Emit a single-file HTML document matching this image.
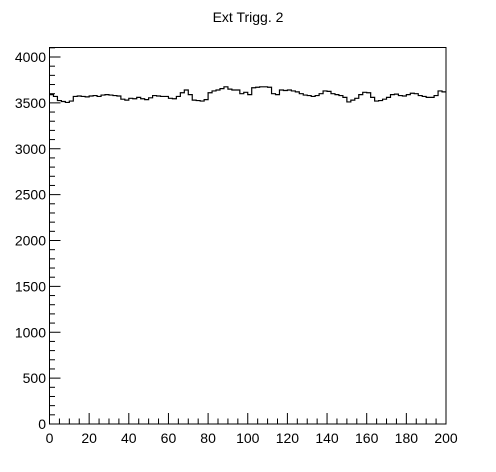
<!DOCTYPE html>
<html><head><meta charset="utf-8"><style>body{margin:0;background:#fff}svg{display:block}</style></head>
<body>
<svg width="496" height="472" xmlns="http://www.w3.org/2000/svg" font-family="Liberation Sans, sans-serif">
<text x="248" y="22" font-size="14" text-anchor="middle">Ext Trigg. 2</text>
<g id="axes"></g>
<path id="hist" fill="none" stroke="#000" stroke-width="1.2"/>
<rect x="49.5" y="47.5" width="396.5" height="376.5" fill="none" stroke="#000" stroke-width="1"/>
</svg>
<script>
const binEdgesRange = [0, 200];
const values = [3590,3570,3525,3515,3505, 3520,3570,3575,3570,3565,
3575,3580,3570,3585,3590, 3585,3580,3575,3540,3530,
3550,3545,3560,3545,3535, 3555,3580,3575,3570,3570,
3550,3545,3570,3610,3640, 3590,3530,3525,3520,3535,
3610,3630,3640,3655,3675, 3650,3640,3640,3600,3615,
3590,3665,3670,3675,3675, 3670,3600,3590,3640,3635,
3640,3630,3620,3600,3585, 3580,3570,3580,3600,3630,
3625,3600,3590,3580,3560, 3510,3530,3550,3590,3615,
3610,3560,3520,3525,3540, 3560,3590,3595,3580,3575,
3590,3605,3600,3580,3570, 3560,3560,3580,3630,3620];
const xTicks = [0,20,40,60,80,100,120,140,160,180,200];
const yTicks = [0,500,1000,1500,2000,2500,3000,3500,4000];

const X0=49.5, X1=446, Y0=424, YTOP=47.5, YMAX=(424-47.5)/0.09175;
const sx = v => X0 + (v - binEdgesRange[0])/(binEdgesRange[1]-binEdgesRange[0])*(X1-X0);
const sy = v => Y0 - v/YMAX*(Y0-YTOP);
const NS='http://www.w3.org/2000/svg';
const ax=document.getElementById('axes');
function line(x1,y1,x2,y2,name){const l=document.createElementNS(NS,'line');
l.setAttribute('x1',x1);l.setAttribute('y1',y1);l.setAttribute('x2',x2);l.setAttribute('y2',y2);
l.setAttribute('stroke','#000');l.setAttribute('stroke-width','1');


ax.appendChild(l);}
function text(x,y,s,anchor,name){const t=document.createElementNS(NS,'text');
t.setAttribute('x',x);t.setAttribute('y',y);t.setAttribute('font-size','14');t.setAttribute('text-anchor',anchor);t.textContent=s;


ax.appendChild(t);}
for(let v=0;v<=200;v+=5){const x=sx(v);line(x,Y0,x,Y0-(v%20===0?11:5.5),'x-tick');}
xTicks.forEach(v=>text(sx(v),443,String(v),'middle','x-tick-label'));
for(let v=0;v<=YMAX;v+=100){const y=sy(v);line(X0,y,X0+(v%500===0?11:5.5),y,'y-tick');}
yTicks.forEach(v=>text(46,sy(v)+5,String(v),'end','y-tick-label'));
const w=(binEdgesRange[1]-binEdgesRange[0])/values.length;
let d='';
values.forEach((v,i)=>{const xa=sx(binEdgesRange[0]+i*w),xb=sx(binEdgesRange[0]+(i+1)*w),y=sy(v);
d+=(i===0?'M':'L')+xa.toFixed(2)+','+y.toFixed(2)+'L'+xb.toFixed(2)+','+y.toFixed(2);});
document.getElementById('hist').setAttribute('d',d);
</script>
</body></html>
